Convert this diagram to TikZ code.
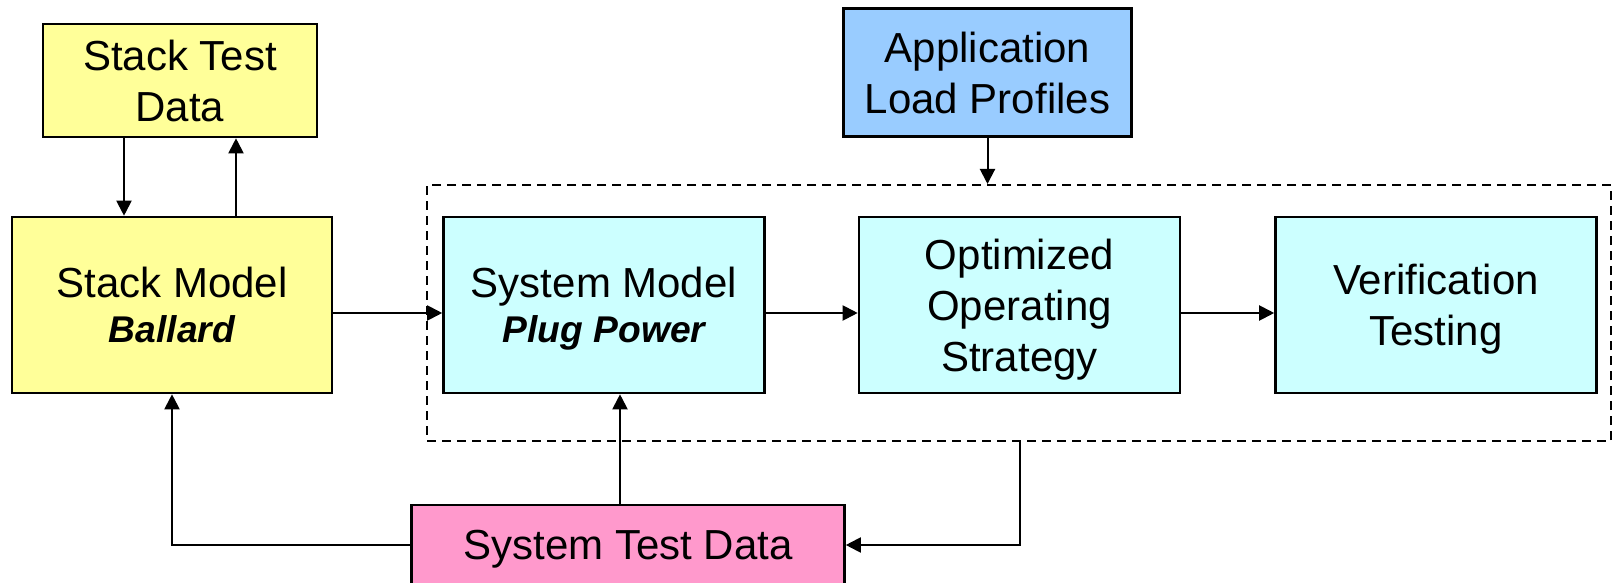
\documentclass[tikz,border=0pt]{standalone}
\usepackage{fontspec}
\setmainfont{Liberation Sans}
\usetikzlibrary{arrows.meta,positioning,calc}
\definecolor{stackyellow}{HTML}{FFFF99}
\definecolor{syscyan}{HTML}{CCFFFF}
\definecolor{loadblue}{HTML}{99CCFF}
\definecolor{testpink}{HTML}{FF99CC}
\newcommand{\firm}[1]{{\fontsize{18.6pt}{22.5pt}\selectfont\bfseries\itshape #1}}
\tikzset{
  box/.style     ={draw,line width=1.3pt,inner sep=2pt,align=center,text depth=0pt,
                   font=\fontsize{21pt}{25.5pt}\selectfont},
  stackbox/.style={box,fill=stackyellow},
  sysbox/.style  ={box,fill=syscyan,minimum width=160.5pt,minimum height=88pt},
  ar/.style      ={-{Triangle[length=7.5pt,width=7.5pt]},line width=1pt},
  frame/.style   ={draw,dash pattern=on 4.5pt off 3pt,line width=1pt,inner sep=0pt},
}
\begin{document}
\begin{tikzpicture}[x=0.5pt,y=-0.5pt]
  \useasboundingbox (0,0) rectangle (1612,583);
  % fuel cell stack side
  \node[stackbox,minimum width=137pt,minimum height=56.5pt] (stackdata) at (180,80.5) {Stack Test\\Data};
  \node[stackbox,minimum width=160pt,minimum height=88pt] (stackmodel) at (172,305) {Stack Model\\[-3pt]\firm{Ballard}};
  % system side
  \node[box,fill=loadblue,minimum width=144pt,minimum height=64pt] (loads) at (987.5,72.5) {Application\\Load Profiles};
  \node[frame,minimum width=592pt,minimum height=128pt] (frame) at (1019,313) {};
  \node[sysbox] (sysmodel) at (604,305) {System Model\\[-3pt]\firm{Plug Power}};
  \node[sysbox] (strategy) at (1019.5,305) {Optimized\\Operating\\Strategy};
  \node[sysbox] (verif) at (1436,305) {Verification\\Testing};
  \node[box,fill=testpink,minimum width=216.5pt,minimum height=40pt] (systest) at (628,545) {System Test Data};
  % connectors
  \draw[ar] ([xshift=-28pt]stackdata.south) -- ([xshift=-28pt]stackdata.south |- stackmodel.north);
  \draw[ar] ([xshift=28pt]stackdata.south |- stackmodel.north) -- ([xshift=28pt]stackdata.south);
  \draw[ar] ([yshift=-4pt]stackmodel.east) -- ([yshift=-4pt]stackmodel.east -| frame.west) -- ([yshift=-4pt]sysmodel.west);
  \draw[ar] ([yshift=-4pt]sysmodel.east) -- ([yshift=-4pt]strategy.west);
  \draw[ar] ([yshift=-4pt]strategy.east) -- ([yshift=-4pt]verif.west);
  \draw[ar] (loads.south) -- (loads.south |- frame.north);
  \draw[ar] ([xshift=-4pt]systest.north) -- ([xshift=-4pt]systest.north |- sysmodel.south);
  \draw[ar] (systest.west) -| (stackmodel.south);
  \draw[ar] (frame.south -| strategy) |- (systest.east);
\end{tikzpicture}
\end{document}
